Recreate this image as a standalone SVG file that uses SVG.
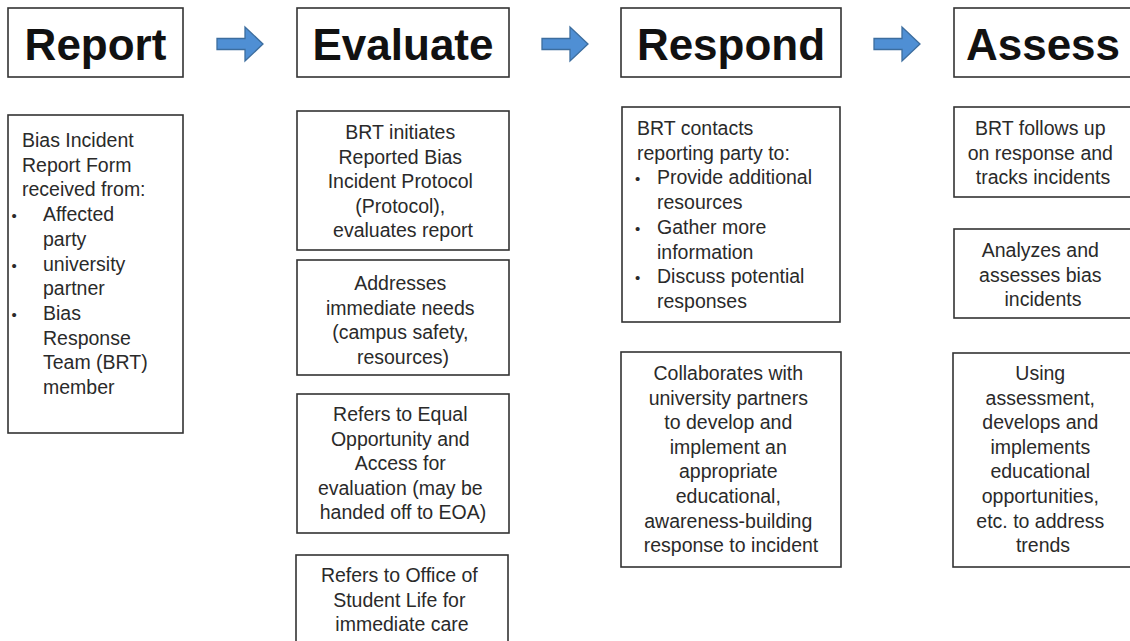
<svg xmlns="http://www.w3.org/2000/svg" width="1130" height="641" viewBox="0 0 1130 641">
<style>
.box{fill:#fff;stroke:#333;stroke-width:1.6}
.hd{font-family:"Liberation Sans",Arial,sans-serif;font-weight:bold;font-size:44px;fill:#111;text-anchor:middle}
.tx{font-family:"Liberation Sans",Arial,sans-serif;font-size:19.5px;fill:#2a2a2a}
.c{text-anchor:middle}
.b{font-size:15px}
.arr{fill:#4f8fd4;stroke:#3c6d9e;stroke-width:1.3;stroke-linejoin:miter}
</style>
<rect width="1130" height="641" fill="#fff"/>
<defs>
<path id="arrow" d="M0,-5.5 H28 V-17 L46,0 L28,17 V5.5 H0 Z"/>
</defs>
<g id="connectors">
<use href="#arrow" class="arr" transform="translate(217,44)"/>
<use href="#arrow" class="arr" transform="translate(542,44)"/>
<use href="#arrow" class="arr" transform="translate(874,44)"/>
</g>
<g id="report">
<rect class="box" x="8" y="8" width="175" height="69"/>
<text class="hd" x="95.5" y="60">Report</text>
</g>
<g id="evaluate">
<rect class="box" x="297" y="8" width="212" height="69"/>
<text class="hd" x="403" y="60">Evaluate</text>
</g>
<g id="respond">
<rect class="box" x="621" y="8" width="220" height="69"/>
<text class="hd" x="731" y="60">Respond</text>
</g>
<g id="assess">
<rect class="box" x="954" y="8" width="180" height="69"/>
<text class="hd" x="1043" y="60">Assess</text>
</g>
<g id="report-form">
<rect class="box" x="8" y="115" width="175" height="318"/>
<text class="tx" y="147">
<tspan x="22">Bias Incident</tspan>
<tspan x="22" dy="24.7">Report Form</tspan>
<tspan x="22" dy="24.7">received from:</tspan>
<tspan class="b" x="11.5" dy="24.7">•</tspan><tspan x="43">Affected</tspan>
<tspan x="43" dy="24.7">party</tspan>
<tspan class="b" x="11.5" dy="24.7">•</tspan><tspan x="43">university</tspan>
<tspan x="43" dy="24.7">partner</tspan>
<tspan class="b" x="11.5" dy="24.7">•</tspan><tspan x="43">Bias</tspan>
<tspan x="43" dy="24.7">Response</tspan>
<tspan x="43" dy="24.7">Team (BRT)</tspan>
<tspan x="43" dy="24.7">member</tspan>
</text>
</g>
<g id="eval-1">
<rect class="box" x="297" y="111" width="212" height="139"/>
<text class="tx c" y="139">
<tspan x="403">BRT initiates</tspan>
<tspan x="403" dy="24.5">Reported Bias</tspan>
<tspan x="403" dy="24.5">Incident Protocol</tspan>
<tspan x="403" dy="24.5">(Protocol),</tspan>
<tspan x="403" dy="24.5">evaluates report</tspan>
</text>
</g>
<g id="eval-2">
<rect class="box" x="297" y="260" width="212" height="115"/>
<text class="tx c" y="290">
<tspan x="403">Addresses</tspan>
<tspan x="403" dy="24.5">immediate needs</tspan>
<tspan x="403" dy="24.5">(campus safety,</tspan>
<tspan x="403" dy="24.5">resources)</tspan>
</text>
</g>
<g id="eval-3">
<rect class="box" x="297" y="394" width="212" height="139"/>
<text class="tx c" y="421">
<tspan x="403">Refers to Equal</tspan>
<tspan x="403" dy="24.5">Opportunity and</tspan>
<tspan x="403" dy="24.5">Access for</tspan>
<tspan x="403" dy="24.5">evaluation (may be</tspan>
<tspan x="403" dy="24.5">handed off to EOA)</tspan>
</text>
</g>
<g id="eval-4">
<rect class="box" x="296" y="555" width="212" height="100"/>
<text class="tx c" y="582">
<tspan x="402">Refers to Office of</tspan>
<tspan x="402" dy="24.5">Student Life for</tspan>
<tspan x="402" dy="24.5">immediate care</tspan>
</text>
</g>
<g id="resp-1">
<rect class="box" x="622" y="107" width="218" height="215"/>
<text class="tx" y="135">
<tspan x="637">BRT contacts</tspan>
<tspan x="637" dy="24.7">reporting party to:</tspan>
<tspan class="b" x="635" dy="24.7">•</tspan><tspan x="657">Provide additional</tspan>
<tspan x="657" dy="24.7">resources</tspan>
<tspan class="b" x="635" dy="24.7">•</tspan><tspan x="657">Gather more</tspan>
<tspan x="657" dy="24.7">information</tspan>
<tspan class="b" x="635" dy="24.7">•</tspan><tspan x="657">Discuss potential</tspan>
<tspan x="657" dy="24.7">responses</tspan>
</text>
</g>
<g id="resp-2">
<rect class="box" x="621" y="352" width="220" height="215"/>
<text class="tx c" y="380">
<tspan x="731">Collaborates with</tspan>
<tspan x="731" dy="24.6">university partners</tspan>
<tspan x="731" dy="24.6">to develop and</tspan>
<tspan x="731" dy="24.6">implement an</tspan>
<tspan x="731" dy="24.6">appropriate</tspan>
<tspan x="731" dy="24.6">educational,</tspan>
<tspan x="731" dy="24.6">awareness-building</tspan>
<tspan x="731" dy="24.6">response to incident</tspan>
</text>
</g>
<g id="assess-1">
<rect class="box" x="954" y="107" width="180" height="90"/>
<text class="tx c" y="135">
<tspan x="1043">BRT follows up</tspan>
<tspan x="1043" dy="24.5">on response and</tspan>
<tspan x="1043" dy="24.5">tracks incidents</tspan>
</text>
</g>
<g id="assess-2">
<rect class="box" x="954" y="229" width="180" height="89"/>
<text class="tx c" y="257">
<tspan x="1043">Analyzes and</tspan>
<tspan x="1043" dy="24.5">assesses bias</tspan>
<tspan x="1043" dy="24.5">incidents</tspan>
</text>
</g>
<g id="assess-3">
<rect class="box" x="953" y="353" width="181" height="214"/>
<text class="tx c" y="380">
<tspan x="1043">Using</tspan>
<tspan x="1043" dy="24.6">assessment,</tspan>
<tspan x="1043" dy="24.6">develops and</tspan>
<tspan x="1043" dy="24.6">implements</tspan>
<tspan x="1043" dy="24.6">educational</tspan>
<tspan x="1043" dy="24.6">opportunities,</tspan>
<tspan x="1043" dy="24.6">etc. to address</tspan>
<tspan x="1043" dy="24.6">trends</tspan>
</text>
</g>
</svg>
